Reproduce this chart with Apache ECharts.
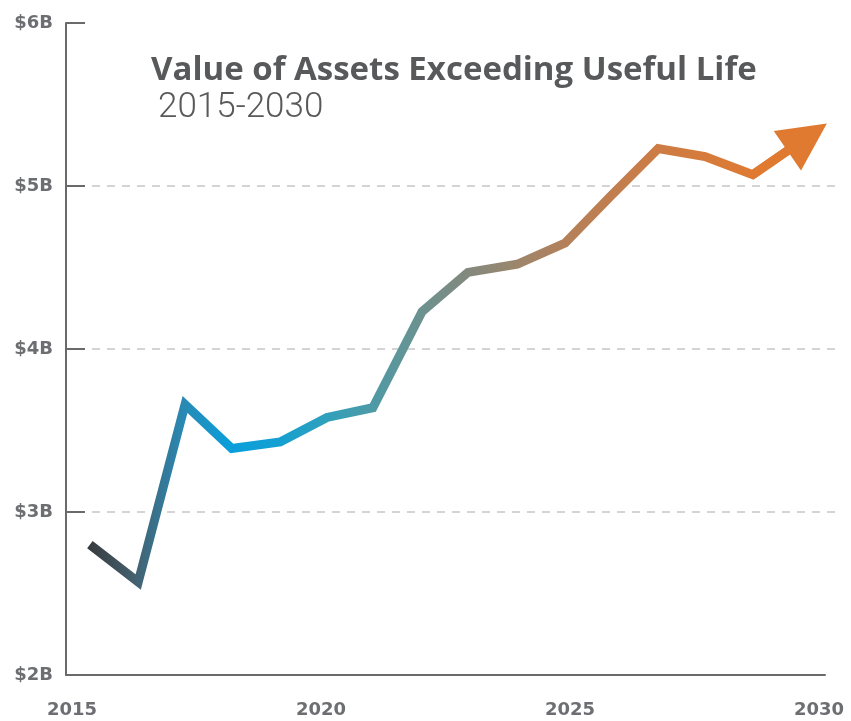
<!DOCTYPE html>
<html>
<head>
<meta charset="utf-8">
<script src="https://cdn.jsdelivr.net/npm/echarts@6/dist/echarts.min.js"></script>
<style>
  html, body { margin: 0; padding: 0; background: #ffffff; }
  #chart { width: 851px; height: 721px; }
</style>
</head>
<body>
<div id="chart"></div>
<script>
// Year positions of each plotted value (fractional years)
var years = [2015.36, 2016.33, 2017.27, 2018.21, 2019.18, 2020.12, 2021.04, 2022.03,
             2022.95, 2023.94, 2024.90, 2025.82, 2026.77, 2027.71, 2028.67];
// Value of assets exceeding useful life, billions of dollars
var values = [2.80, 2.57, 3.66, 3.39, 3.43, 3.58, 3.64, 4.23,
              4.47, 4.52, 4.65, 4.94, 5.23, 5.18, 5.07];
// Projection arrow end point [year, value]
var arrowEnd = [2029.76, 5.30];
// Axis ticks
var yTicks = [2, 3, 4, 5, 6];
var xTicks = [2015, 2020, 2025, 2030];

var titleText = 'Value of Assets Exceeding Useful Life';
var subtitleText = '2015-2030';

var textGray = '#6d6e71';
var axisGray = '#6a6a6a';

var lineData = years.map(function (y, i) { return [y, values[i]]; });
lineData.push(arrowEnd);
var lastPoint = lineData[lineData.length - 2];

var chart = echarts.init(document.getElementById('chart'), null, { renderer: 'canvas' });

chart.setOption({
  animation: false,
  backgroundColor: '#ffffff',
  title: [
    {
      text: titleText,
      left: 146,
      top: 49,
      textStyle: { fontFamily: 'Open Sans', fontWeight: 'bold', fontSize: 33, color: '#58595b' }
    },
    {
      text: subtitleText,
      left: 153,
      top: 86,
      textStyle: { fontFamily: 'Roboto', fontWeight: 300, fontSize: 35, color: '#58595b' }
    }
  ],
  grid: [
    { left: 66, right: 13, top: 23, bottom: 46, containLabel: false },
    { left: 66, right: 26, top: 23, bottom: 46, containLabel: false }
  ],
  xAxis: [
    {
      type: 'value', gridIndex: 0, min: 2014.88, max: 2030.38,
      show: false
    },
    {
      type: 'value', gridIndex: 1, min: 2014.88, max: 2030.12,
      axisLine: { show: true, lineStyle: { color: axisGray, width: 2 } },
      axisTick: { show: false },
      splitLine: { show: false },
      axisLabel: {
        customValues: xTicks,
        margin: 26,
        color: textGray,
        fontFamily: 'DejaVu Sans',
        fontWeight: 'bold',
        fontSize: 18,
        formatter: function (v) { return String(v); }
      }
    }
  ],
  yAxis: [
    {
      type: 'value', gridIndex: 0, min: 2, max: 6, interval: 1,
      axisLine: { show: true, lineStyle: { color: axisGray, width: 2 } },
      axisTick: { show: true, inside: true, length: 19, lineStyle: { color: axisGray, width: 2 } },
      splitLine: {
        show: true,
        showMinLine: false,
        showMaxLine: false,
        lineStyle: { color: '#d4d4d4', width: 2, type: [8, 7], dashOffset: 4 }
      },
      axisLabel: {
        margin: 13,
        color: textGray,
        fontFamily: 'DejaVu Sans',
        fontWeight: 'bold',
        fontSize: 18,
        formatter: function (v) { return '$' + v + 'B'; }
      }
    },
    {
      type: 'value', gridIndex: 1, min: 2, max: 6, show: false
    }
  ],
  series: [
    {
      type: 'line',
      xAxisIndex: 0,
      yAxisIndex: 0,
      data: lineData,
      symbol: 'none',
      clip: false,
      z: 3,
      lineStyle: {
        width: 9,
        cap: 'butt',
        join: 'miter',
        color: new echarts.graphic.LinearGradient(0, 0, 1, 0, [
          { offset: 0.000, color: '#38393b' },
          { offset: 0.067, color: '#44606e' },
          { offset: 0.133, color: '#2a88b2' },
          { offset: 0.198, color: '#0a9fda' },
          { offset: 0.265, color: '#14a0d2' },
          { offset: 0.330, color: '#2fa0bc' },
          { offset: 0.395, color: '#4e9aa6' },
          { offset: 0.460, color: '#6b9290' },
          { offset: 0.524, color: '#82897e' },
          { offset: 0.593, color: '#9c866c' },
          { offset: 0.660, color: '#b4805a' },
          { offset: 0.790, color: '#cd7c44' },
          { offset: 0.920, color: '#df7a32' },
          { offset: 1.000, color: '#e27a2e' }
        ])
      },
      markLine: {
        silent: true,
        animation: false,
        symbol: ['none', 'triangle'],
        symbolSize: 48,
        label: { show: false },
        lineStyle: { color: '#e07a30', width: 9, type: 'solid' },
        emphasis: { disabled: true },
        data: [[{ coord: lastPoint }, { coord: arrowEnd }]]
      }
    }
  ]
});
</script>
</body>
</html>
